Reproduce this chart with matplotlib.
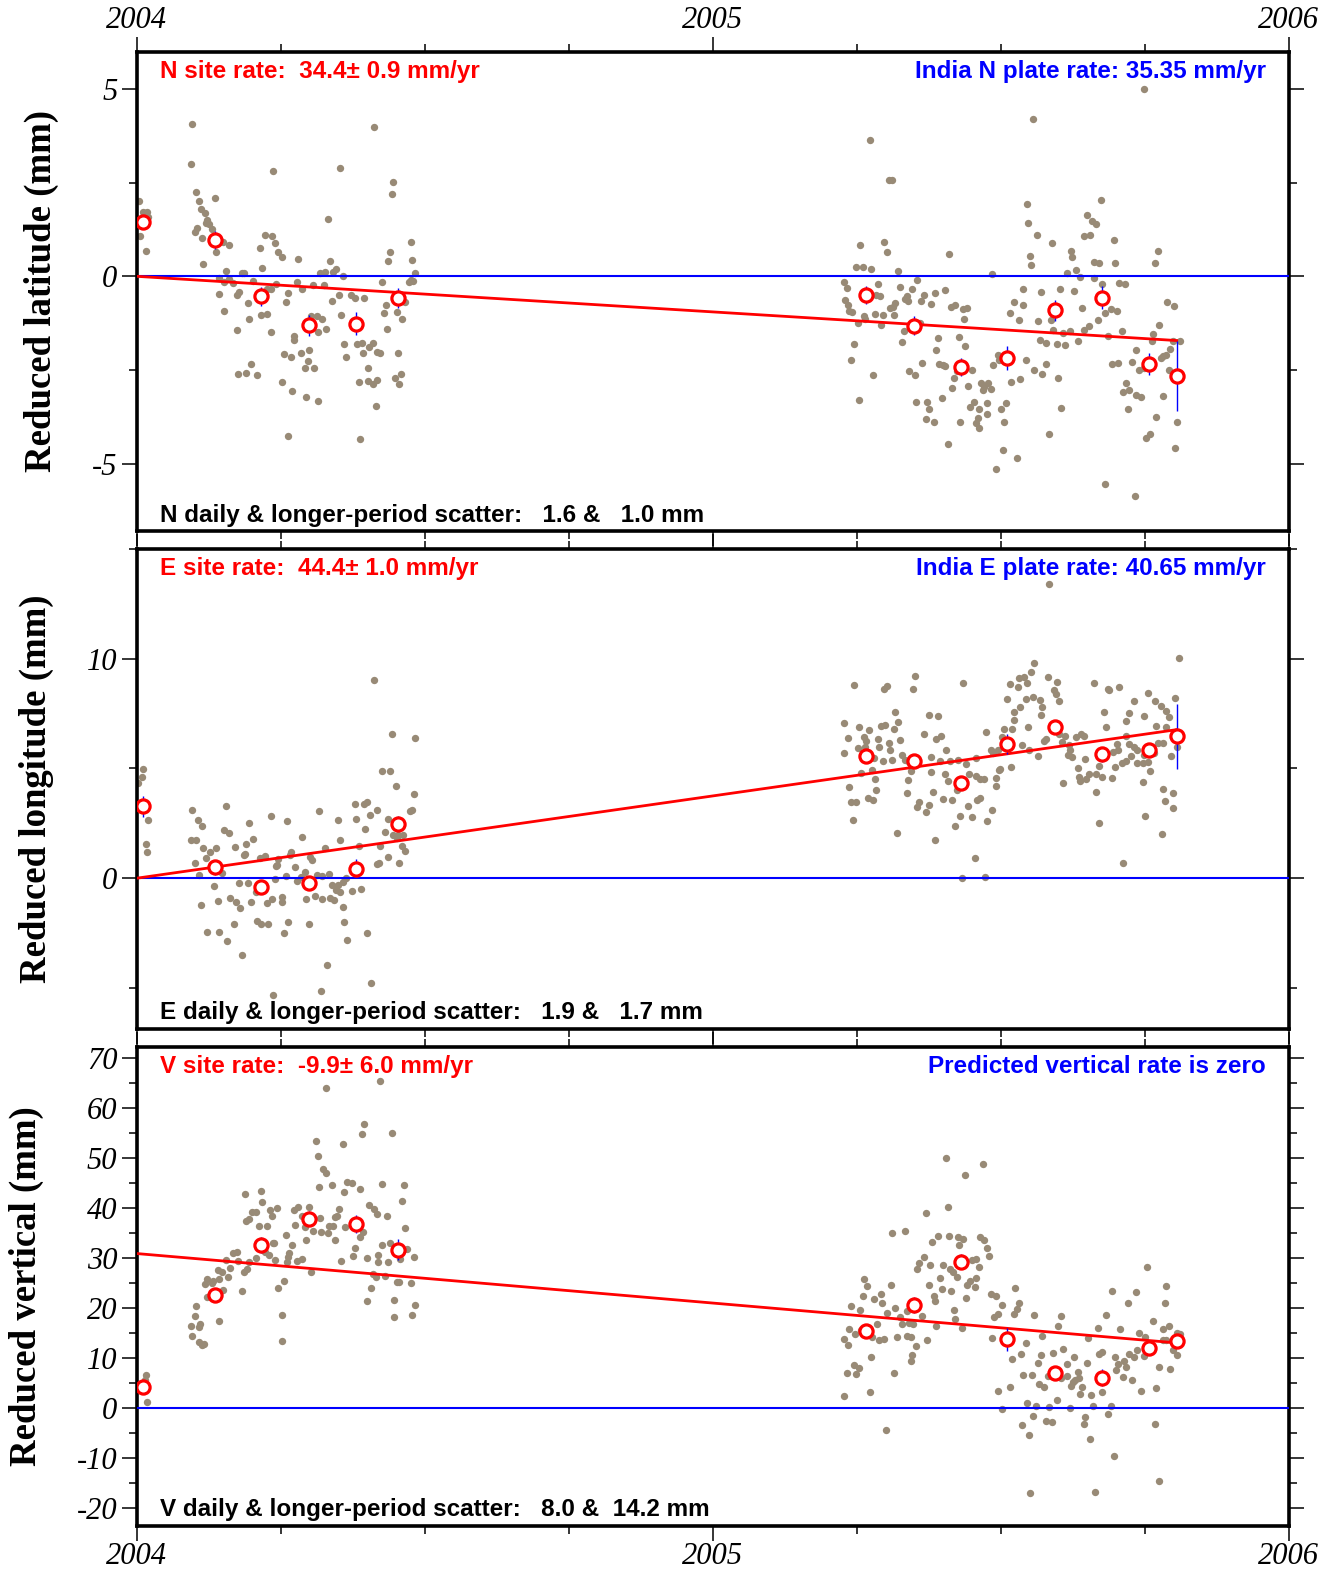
import numpy as np
import matplotlib
matplotlib.use('Agg')
import matplotlib.pyplot as plt
from matplotlib.ticker import MultipleLocator, FormatStrFormatter

plt.rcParams['font.family'] = ['Liberation Serif', 'DejaVu Serif']
plt.rcParams['axes.unicode_minus'] = False

# daily solutions: (years after 2004.0, residual in mm)
n_daily = [
    (0.004, 2.0), (0.010, 1.73), (0.017, 1.73), (0.019, 1.58), (0.005, 1.09), (0.015, 0.68),
    (0.096, 4.07), (0.094, 3.0), (0.412, 3.98), (0.237, 2.81), (0.352, 2.88), (0.445, 2.53), (0.442, 2.21), (0.332, 1.52),
    (0.102, 2.25), (0.108, 2.01), (0.111, 1.8), (0.118, 1.7), (0.122, 1.5), (0.125, 1.4), (0.120, 1.42), (0.136, 2.1),
    (0.104, 1.29), (0.100, 1.18), (0.131, 1.27), (0.113, 1.02), (0.138, 0.65), (0.115, 0.32), (0.149, 0.92), (0.160, 0.83),
    (0.222, 1.11), (0.234, 1.09), (0.239, 0.89), (0.213, 0.76), (0.245, 0.65), (0.251, 0.52), (0.217, 0.23), (0.280, 0.45),
    (0.335, 0.42), (0.346, 0.2), (0.341, 0.12), (0.317, 0.09), (0.327, 0.12), (0.357, 0.0), (0.440, 0.64), (0.436, 0.4),
    (0.476, 0.92), (0.478, 0.44), (0.483, 0.09), (0.479, -0.12), (0.472, -0.15), (0.475, -0.1),
    (0.155, 0.13), (0.143, -0.05), (0.151, -0.15), (0.160, -0.08), (0.167, -0.18), (0.183, 0.1), (0.186, 0.08), (0.202, -0.13),
    (0.143, -0.46), (0.151, -0.92), (0.173, -0.51), (0.178, -0.42), (0.193, -0.7), (0.195, -1.15), (0.174, -1.42),
    (0.226, -0.35), (0.232, -0.33), (0.215, -1.02), (0.226, -1.0), (0.232, -1.48), (0.242, -0.2), (0.262, -0.44), (0.258, -0.68),
    (0.278, -0.15), (0.286, -0.35), (0.305, -0.22), (0.324, -0.22), (0.338, -0.66), (0.350, -0.51), (0.354, -1.02),
    (0.372, -0.51), (0.379, -0.57), (0.395, -0.57), (0.303, -1.07), (0.312, -1.07), (0.322, -1.15), (0.329, -1.4), (0.314, -1.48),
    (0.273, -1.59), (0.272, -1.69), (0.255, -2.08), (0.268, -2.15), (0.284, -2.04), (0.299, -1.97), (0.297, -2.25), (0.291, -2.44), (0.308, -2.44),
    (0.198, -2.33), (0.190, -2.57), (0.176, -2.61), (0.209, -2.63), (0.252, -2.82), (0.269, -3.06), (0.294, -3.23), (0.314, -3.33),
    (0.263, -4.26), (0.387, -4.35), (0.359, -1.81), (0.363, -2.15), (0.382, -1.81), (0.390, -1.78), (0.393, -2.04), (0.403, -1.88), (0.410, -1.77),
    (0.417, -2.02), (0.422, -2.06), (0.401, -2.44), (0.385, -2.81), (0.401, -2.8), (0.410, -2.87), (0.417, -2.76), (0.415, -3.45),
    (0.453, -2.04), (0.459, -2.61), (0.448, -2.71), (0.455, -2.87), (0.432, -0.76), (0.429, -0.97), (0.434, -1.4), (0.451, -0.94), (0.461, -1.15),
    (0.465, -0.68), (0.426, -0.16),
    (1.273, 3.63), (1.556, 4.19), (1.306, 2.58), (1.311, 2.58), (1.545, 1.94), (1.674, 2.05), (1.547, 1.42), (1.650, 1.63), (1.658, 1.49), (1.665, 1.39),
    (1.644, 1.07), (1.655, 1.1), (1.562, 1.1), (1.588, 0.9), (1.697, 0.97), (1.773, 0.68), (1.767, 0.36), (1.698, 0.35), (1.662, 0.39), (1.670, 0.36),
    (1.622, 0.68), (1.623, 0.52), (1.550, 0.53), (1.553, 0.3), (1.410, 0.6), (1.256, 0.83), (1.297, 0.92), (1.302, 0.65), (1.248, 0.25), (1.260, 0.25),
    (1.275, 0.2), (1.322, 0.13), (1.485, 0.05), (1.615, 0.1), (1.630, 0.18), (1.637, -0.02), (1.661, -0.04), (1.355, -0.09), (1.227, -0.15), (1.232, -0.31),
    (1.286, -0.21), (1.325, -0.28), (1.346, -0.35), (1.705, -0.17), (1.715, -0.21), (1.675, -0.21), (1.283, -0.49), (1.290, -0.53),
    (1.367, -0.51), (1.362, -0.67), (1.379, -0.73), (1.386, -0.44), (1.402, -0.36), (1.337, -0.53), (1.339, -0.67), (1.333, -0.6),
    (1.229, -0.64), (1.234, -0.77), (1.241, -0.95), (1.236, -0.92), (1.316, -0.7), (1.312, -0.82), (1.308, -0.84), (1.315, -1.04),
    (1.281, -1.0), (1.295, -1.02), (1.263, -1.07), (1.264, -1.13), (1.251, -1.24), (1.292, -1.31), (1.331, -1.47), (1.359, -1.24), (1.328, -1.75),
    (1.245, -1.81), (1.240, -2.24), (1.278, -2.63), (1.254, -3.31), (1.413, -0.82), (1.421, -0.77), (1.434, -0.86), (1.441, -0.84), (1.435, -1.15),
    (1.391, -1.64), (1.427, -1.63), (1.438, -1.85), (1.388, -1.98), (1.363, -2.31), (1.393, -2.35), (1.403, -2.39), (1.400, -2.37),
    (1.449, -2.49), (1.424, -2.52), (1.341, -2.52), (1.350, -2.64), (1.419, -2.71), (1.415, -2.97), (1.443, -2.92), (1.352, -3.35), (1.372, -3.35), (1.375, -3.53),
    (1.397, -3.26), (1.369, -3.81), (1.383, -3.88), (1.429, -3.88), (1.408, -4.49), (1.465, -2.84), (1.470, -2.95), (1.469, -3.04), (1.477, -2.84), (1.482, -3.0),
    (1.454, -3.35), (1.446, -3.5), (1.475, -3.39), (1.462, -3.53), (1.476, -3.67), (1.460, -3.79), (1.457, -3.91), (1.462, -4.06),
    (1.509, -3.38), (1.500, -3.53), (1.506, -3.89), (1.503, -4.64), (1.492, -5.14), (1.528, -4.85), (1.495, -2.11), (1.487, -2.37), (1.497, -2.24),
    (1.518, -2.82), (1.533, -2.75), (1.543, -2.24), (1.558, -2.49), (1.572, -2.6), (1.578, -2.33), (1.599, -2.71), (1.605, -3.52), (1.583, -4.2),
    (1.515, -0.97), (1.523, -0.68), (1.531, -1.17), (1.538, -0.76), (1.539, -0.35), (1.564, -1.18), (1.570, -0.43), (1.586, -1.17),
    (1.603, -0.34), (1.627, -0.38), (1.591, -1.42), (1.608, -1.5), (1.619, -1.46), (1.567, -1.71), (1.578, -1.77), (1.597, -1.82), (1.611, -1.84),
    (1.634, -1.72), (1.641, -0.84), (1.645, -1.42), (1.652, -1.32), (1.669, -1.16), (1.680, -0.99), (1.691, -0.86), (1.701, -0.93), (1.686, -1.59), (1.710, -1.46),
    (1.693, -2.35), (1.704, -2.32), (1.717, -2.86), (1.712, -3.09), (1.723, -3.04), (1.727, -2.28), (1.734, -1.97), (1.720, -3.55), (1.735, -3.17), (1.743, -3.22),
    (1.739, -2.51), (1.749, -2.44), (1.764, -1.53), (1.762, -1.72), (1.775, -1.31), (1.782, -2.12), (1.778, -2.19), (1.786, -2.09), (1.793, -1.95), (1.798, -1.73), (1.810, -1.73),
    (1.789, -0.68), (1.800, -0.79), (1.792, -2.51), (1.781, -3.19), (1.769, -3.75), (1.759, -4.2), (1.752, -4.33), (1.805, -3.88), (1.803, -4.58),
    (1.681, -5.55), (1.732, -5.86), (1.749, 5.0),
]

e_daily = [
    (0.412, 9.03), (0.442, 6.59), (0.483, 6.38), (0.011, 4.98), (0.009, 4.61), (0.002, 4.33), (0.020, 2.67), (0.015, 1.58), (0.017, 1.2),
    (0.425, 4.88), (0.440, 4.9), (0.450, 4.2), (0.481, 3.85), (0.474, 3.06), (0.478, 3.09), (0.417, 3.12), (0.379, 3.36), (0.394, 3.36), (0.399, 3.49),
    (0.316, 3.06), (0.404, 2.86), (0.381, 2.68), (0.349, 2.64), (0.436, 2.68), (0.396, 2.26), (0.430, 2.1), (0.445, 1.98), (0.451, 1.84), (0.454, 1.95), (0.462, 1.96),
    (0.461, 1.47), (0.465, 1.24), (0.422, 1.45), (0.435, 0.95), (0.455, 0.67), (0.417, 0.64), (0.420, 0.7), (0.386, 1.47), (0.389, -0.47), (0.374, -0.59),
    (0.400, -2.52), (0.406, -4.79), (0.352, 1.73), (0.327, 1.39), (0.286, 1.88), (0.268, 1.2), (0.266, 1.05), (0.304, 0.82), (0.301, 0.97), (0.274, 0.52),
    (0.258, 0.1), (0.278, -0.14), (0.285, 0.05), (0.292, 0.3), (0.313, 0.15), (0.333, 0.2), (0.321, 0.1),
    (0.339, -0.32), (0.345, -0.55), (0.336, -0.92), (0.342, -1.0), (0.363, 0.03), (0.357, -0.17), (0.349, -0.3), (0.352, -0.65),
    (0.321, -0.97), (0.294, -0.97), (0.309, -0.8), (0.298, -2.08), (0.357, -1.3), (0.359, -1.99), (0.365, -2.82), (0.330, -3.94), (0.319, -5.14), (0.237, -5.32), (0.183, -3.5),
    (0.255, -2.48), (0.263, -1.98), (0.252, -0.85), (0.251, -1.1), (0.239, -0.05), (0.242, 0.56), (0.245, 0.86), (0.228, -2.1), (0.209, -1.95), (0.215, -2.1),
    (0.225, -1.15), (0.234, -0.95), (0.206, -0.62), (0.198, -1.1), (0.177, -0.24), (0.193, -0.2), (0.161, -0.92), (0.172, -1.08), (0.179, -1.35), (0.168, -2.1),
    (0.141, -1.03), (0.133, -0.36), (0.111, -1.23), (0.121, -2.44), (0.143, -2.47), (0.157, -2.85), (0.108, 0.14), (0.100, 0.7), (0.120, 0.94), (0.127, 1.2), (0.138, 1.39),
    (0.115, 1.39), (0.094, 1.76), (0.102, 1.76), (0.147, 0.24), (0.140, 0.32), (0.096, 3.12), (0.106, 2.67), (0.113, 2.38), (0.154, 3.3), (0.151, 2.18), (0.160, 2.08),
    (0.171, 1.41), (0.185, 1.05), (0.188, 1.12), (0.190, 1.55), (0.201, 1.8), (0.195, 2.51), (0.232, 2.83), (0.261, 2.61), (0.213, 0.9), (0.223, 1.0), (0.243, 0.58),
    (1.584, 13.4), (1.809, 10.03), (1.557, 9.79), (1.553, 9.38), (1.540, 9.15), (1.532, 9.1), (1.545, 8.88), (1.529, 8.7), (1.515, 8.85),
    (1.581, 9.18), (1.597, 8.92), (1.592, 8.58), (1.595, 8.4), (1.600, 8.09), (1.556, 8.27), (1.568, 8.12), (1.543, 8.17), (1.510, 8.17),
    (1.533, 7.79), (1.523, 7.56), (1.572, 7.79), (1.570, 7.44), (1.434, 8.91), (1.350, 9.23), (1.347, 8.62), (1.245, 8.79), (1.297, 8.62), (1.303, 8.77),
    (1.316, 7.59), (1.322, 7.14), (1.314, 6.8), (1.375, 7.45), (1.391, 7.38), (1.227, 7.06), (1.254, 6.91), (1.271, 6.76), (1.291, 6.92), (1.299, 6.99),
    (1.234, 6.38), (1.263, 6.42), (1.266, 6.27), (1.287, 6.35), (1.325, 6.3), (1.367, 6.55), (1.388, 6.35), (1.396, 6.5), (1.252, 5.92), (1.264, 5.97),
    (1.289, 6.0), (1.305, 6.15), (1.308, 5.82), (1.228, 5.7), (1.280, 5.48), (1.295, 5.36), (1.311, 5.4), (1.328, 5.62), (1.333, 5.4), (1.340, 5.29),
    (1.378, 5.52), (1.379, 4.83), (1.394, 5.36), (1.405, 5.82), (1.411, 5.36), (1.426, 5.4), (1.257, 4.8), (1.276, 4.94), (1.281, 4.5), (1.237, 4.15), (1.283, 4.0),
    (1.240, 3.47), (1.248, 3.47), (1.270, 3.65), (1.278, 3.55), (1.243, 2.64), (1.320, 2.08), (1.339, 4.49), (1.344, 4.88), (1.337, 3.88),
    (1.357, 3.47), (1.354, 3.24), (1.375, 3.32), (1.370, 3.01), (1.382, 3.92), (1.399, 3.62), (1.415, 3.58), (1.402, 4.76), (1.408, 4.45), (1.385, 1.73),
    (1.424, 4.0), (1.430, 4.15), (1.440, 5.21), (1.444, 4.76), (1.457, 5.49), (1.456, 4.64), (1.464, 4.53), (1.459, 3.55), (1.464, 3.67),
    (1.443, 3.27), (1.449, 2.79), (1.429, 2.85), (1.421, 2.38), (1.455, 0.94), (1.433, 0.01), (1.473, 0.06), (1.475, 2.59), (1.485, 3.12),
    (1.470, 4.53), (1.491, 4.2), (1.492, 4.56), (1.474, 6.68), (1.482, 5.82), (1.496, 4.91), (1.498, 4.98), (1.487, 5.7), (1.495, 5.82),
    (1.502, 6.45), (1.506, 6.8), (1.520, 6.8), (1.517, 5.06), (1.537, 6.09), (1.547, 6.88), (1.549, 5.82), (1.565, 5.59), (1.522, 7.21), (1.574, 6.27), (1.578, 6.35),
    (1.601, 6.58), (1.612, 6.5), (1.606, 6.2), (1.618, 6.05), (1.619, 5.82), (1.624, 5.52), (1.616, 5.62), (1.630, 6.42), (1.639, 6.55), (1.644, 6.5),
    (1.608, 4.33), (1.633, 5.03), (1.636, 4.6), (1.638, 4.45), (1.647, 4.53), (1.653, 4.76), (1.646, 5.44), (1.661, 8.88), (1.679, 7.56), (1.682, 6.88),
    (1.685, 8.62), (1.688, 8.58), (1.705, 8.73), (1.665, 4.76), (1.675, 4.6), (1.670, 5.1), (1.665, 3.92), (1.670, 2.51), (1.711, 0.7),
    (1.693, 4.58), (1.698, 5.06), (1.695, 5.74), (1.704, 5.82), (1.710, 5.24), (1.717, 5.36), (1.702, 6.12), (1.717, 6.5), (1.723, 6.12),
    (1.717, 7.18), (1.723, 7.52), (1.731, 8.06), (1.748, 7.41), (1.756, 8.44), (1.767, 8.06), (1.777, 7.83), (1.786, 7.64), (1.791, 7.33), (1.803, 8.21),
    (1.769, 6.95), (1.786, 6.88), (1.731, 5.97), (1.737, 5.82), (1.726, 5.55), (1.749, 5.62), (1.766, 5.7), (1.772, 6.15), (1.782, 6.15),
    (1.737, 5.24), (1.746, 5.24), (1.755, 5.29), (1.759, 4.88), (1.746, 4.38), (1.781, 4.08), (1.798, 3.9), (1.784, 3.52), (1.799, 3.2), (1.750, 2.82), (1.779, 2.03),
    (1.805, 5.97), (1.795, 5.59),
]

v_daily = [
    (0.328, 64.1), (0.422, 65.5), (0.395, 56.9), (0.390, 54.8), (0.442, 55.0), (0.310, 53.4), (0.357, 52.8), (0.314, 50.4), (0.323, 47.8), (0.329, 47.0),
    (0.316, 44.3), (0.338, 44.7), (0.364, 45.3), (0.374, 45.0), (0.388, 43.9), (0.360, 43.2), (0.425, 44.9), (0.464, 44.7), (0.461, 41.4),
    (0.403, 40.7), (0.411, 39.9), (0.417, 38.9), (0.434, 38.4), (0.187, 42.9), (0.215, 43.4), (0.217, 41.3), (0.200, 39.2), (0.207, 39.3), (0.194, 37.9), (0.189, 37.4),
    (0.212, 36.4), (0.225, 36.4), (0.231, 39.7), (0.243, 40.0), (0.234, 38.4), (0.272, 39.7), (0.280, 40.3), (0.299, 40.3), (0.287, 38.5),
    (0.351, 39.9), (0.348, 38.5), (0.343, 38.2), (0.317, 38.1), (0.274, 36.6), (0.291, 36.2), (0.305, 35.5), (0.320, 35.3), (0.334, 36.4), (0.341, 36.5), (0.332, 35.1),
    (0.362, 36.2), (0.393, 35.2), (0.387, 34.2), (0.258, 34.7), (0.237, 33.1), (0.294, 33.7), (0.343, 33.7), (0.466, 36.0), (0.426, 32.7), (0.440, 33.1), (0.436, 29.2), (0.419, 30.7),
    (0.469, 31.9), (0.481, 30.2), (0.457, 29.9), (0.379, 32.0), (0.375, 30.5), (0.399, 30.1), (0.354, 29.4), (0.269, 32.7), (0.264, 31.0), (0.262, 30.2), (0.261, 29.2),
    (0.278, 29.5), (0.287, 29.9), (0.303, 27.2), (0.223, 31.2), (0.229, 30.7), (0.239, 29.7), (0.207, 30.1), (0.238, 33.0),
    (0.195, 29.2), (0.191, 27.9), (0.185, 27.2), (0.176, 29.5), (0.167, 31.0), (0.174, 31.3),
    (0.155, 29.7), (0.161, 28.1), (0.147, 27.3), (0.141, 27.7), (0.158, 26.2), (0.143, 25.9), (0.132, 25.5), (0.121, 25.9), (0.119, 24.8), (0.130, 25.0), (0.150, 23.7),
    (0.121, 22.2), (0.103, 20.4), (0.100, 18.4), (0.094, 16.4), (0.110, 16.9), (0.107, 16.2), (0.096, 14.4), (0.107, 13.2), (0.113, 12.6), (0.117, 12.8),
    (0.142, 17.4), (0.183, 23.4), (0.245, 24.0), (0.255, 25.5), (0.251, 18.7), (0.252, 13.4), (0.400, 21.4), (0.406, 24.0),
    (0.410, 26.9), (0.415, 26.3), (0.431, 26.5), (0.418, 29.2), (0.447, 21.7), (0.446, 18.2), (0.452, 25.2), (0.455, 25.2), (0.475, 25.0), (0.483, 20.6), (0.478, 18.6),
    (0.014, 5.6), (0.016, 6.6), (0.018, 1.3),
    (1.405, 50.0), (1.468, 48.8), (1.438, 46.7), (1.408, 40.2), (1.369, 39.0), (1.311, 35.1), (1.333, 35.5),
    (1.380, 33.3), (1.391, 34.5), (1.410, 34.4), (1.426, 34.3), (1.434, 33.9), (1.428, 32.7), (1.464, 34.2), (1.470, 33.7), (1.475, 32.1), (1.479, 30.5),
    (1.367, 30.3), (1.357, 29.0), (1.377, 28.7), (1.355, 27.9), (1.399, 28.7), (1.411, 27.9), (1.416, 27.3), (1.424, 26.3), (1.450, 29.7), (1.457, 29.9), (1.462, 28.3),
    (1.394, 26.0), (1.375, 24.7), (1.397, 23.9), (1.413, 23.4), (1.446, 25.5), (1.457, 26.0), (1.455, 24.2), (1.441, 24.7), (1.440, 22.0), (1.383, 22.4), (1.386, 21.4),
    (1.262, 25.9), (1.267, 24.4), (1.309, 24.6), (1.260, 22.4), (1.280, 21.8), (1.292, 22.8), (1.294, 21.0), (1.240, 20.4), (1.256, 19.6), (1.316, 20.0), (1.303, 19.0),
    (1.324, 18.2), (1.328, 16.9), (1.340, 17.0), (1.348, 16.9), (1.363, 18.4), (1.337, 19.4), (1.388, 16.4), (1.419, 19.6), (1.421, 17.8), (1.432, 16.0),
    (1.236, 15.9), (1.246, 14.9), (1.257, 15.6), (1.285, 16.9), (1.276, 14.2), (1.288, 13.6), (1.297, 13.8), (1.320, 14.2), (1.228, 13.8), (1.234, 12.6),
    (1.337, 14.4), (1.344, 14.2), (1.372, 13.6), (1.352, 12.4), (1.345, 10.7), (1.344, 9.4), (1.275, 10.2), (1.244, 8.6), (1.254, 8.0), (1.232, 7.0), (1.249, 6.9), (1.314, 7.1),
    (1.227, 2.5), (1.273, 3.3), (1.301, -4.3),
    (1.485, 14.1), (1.488, 18.2), (1.495, 18.8), (1.502, 20.7), (1.492, 22.4), (1.482, 22.9), (1.525, 24.0), (1.531, 21.1), (1.527, 19.9), (1.523, 18.8),
    (1.557, 18.6), (1.604, 18.4), (1.599, 16.4), (1.543, 13.0), (1.534, 10.9), (1.520, 9.9), (1.515, 4.3), (1.495, 3.5), (1.502, -0.1), (1.572, 14.4),
    (1.569, 10.7), (1.564, 9.0), (1.554, 6.7), (1.538, 6.6), (1.591, 11.0), (1.608, 11.9), (1.627, 10.2), (1.614, 8.8),
    (1.581, 6.4), (1.604, 6.1), (1.615, 6.4), (1.634, 7.2), (1.636, 6.0), (1.566, 4.9), (1.575, 4.3), (1.625, 5.2), (1.621, 4.4), (1.629, 5.6), (1.640, 4.3),
    (1.546, 1.1), (1.561, 0.5), (1.583, 0.3), (1.598, 1.7), (1.619, 0.1), (1.638, 2.9), (1.656, 2.6), (1.556, -1.5), (1.537, -3.4), (1.548, -5.4), (1.578, -2.5), (1.588, -2.7),
    (1.550, -16.9), (1.663, -16.7), (1.649, 9.0), (1.669, 16.0), (1.682, 18.6), (1.676, 11.2), (1.670, 10.9), (1.651, 14.0),
    (1.676, 3.3), (1.660, 0.5), (1.646, -1.7), (1.644, -3.1), (1.655, -6.2), (1.691, 0.4), (1.685, -1.1), (1.697, -9.6),
    (1.692, 23.4), (1.706, 15.9), (1.721, 21.1), (1.734, 23.2), (1.753, 28.2), (1.786, 24.4), (1.784, 21.0),
    (1.764, 17.4), (1.781, 15.9), (1.792, 16.4), (1.805, 15.0), (1.810, 14.9), (1.786, 13.6), (1.798, 13.2), (1.739, 15.0), (1.750, 14.2),
    (1.698, 10.2), (1.704, 8.9), (1.714, 9.4), (1.717, 8.2), (1.723, 10.9), (1.731, 10.2), (1.737, 11.7), (1.749, 10.4),
    (1.699, 7.6), (1.711, 6.2), (1.727, 5.7), (1.743, 3.5), (1.769, 4.1), (1.775, 8.2), (1.794, 7.8), (1.798, 11.7), (1.805, 10.7), (1.781, 13.7),
    (1.767, -3.2), (1.774, -14.5),
]

# longer-period (monthly) averages with one-sigma errors
avg_t = [0.010, 0.135, 0.216, 0.298, 0.381, 0.453, 1.266, 1.349, 1.431, 1.511, 1.593, 1.675, 1.757, 1.805]
n_avg = [1.45, 0.96, -0.53, -1.31, -1.26, -0.57, -0.50, -1.32, -2.42, -2.17, -0.91, -0.57, -2.35, -2.67]
n_err = [0.15, 0.24, 0.25, 0.27, 0.31, 0.27, 0.24, 0.25, 0.24, 0.32, 0.27, 0.31, 0.29, 0.93]
e_avg = [3.27, 0.49, -0.39, -0.21, 0.44, 2.49, 5.56, 5.36, 4.33, 6.12, 6.91, 5.64, 5.82, 6.47]
e_err = [0.48, 0.34, 0.27, 0.27, 0.45, 0.33, 0.27, 0.30, 0.32, 0.45, 0.27, 0.33, 0.27, 1.49]
v_avg = [4.2, 22.6, 32.7, 37.9, 36.9, 31.7, 15.4, 20.7, 29.3, 13.8, 7.1, 6.1, 12.1, 13.4]
v_err = [1.0, 1.2, 1.6, 1.5, 1.8, 2.1, 1.2, 1.6, 1.5, 2.3, 1.2, 1.7, 1.4, 1.2]

# rates (mm/yr) and fit offsets at 2004.0
site_rate = [34.4, 44.4, -9.9]
plate_rate = [35.35, 40.65, 0.0]
fit_offset = [0.0, 0.0, 30.9]
fit_end = 1.805

labels = ['Reduced latitude (mm)', 'Reduced longitude (mm)', 'Reduced vertical (mm)']
site_text = ['N site rate:  34.4\u00b1 0.9 mm/yr', 'E site rate:  44.4\u00b1 1.0 mm/yr',
             'V site rate:  -9.9\u00b1 6.0 mm/yr']
plate_text = ['India N plate rate: 35.35 mm/yr', 'India E plate rate: 40.65 mm/yr',
              'Predicted vertical rate is zero']
scatter_text = ['N daily & longer-period scatter:   1.6 &   1.0 mm',
                'E daily & longer-period scatter:   1.9 &   1.7 mm',
                'V daily & longer-period scatter:   8.0 &  14.2 mm']

ylims = [(-6.8, 6.0), (-6.85, 15.0), (-23.5, 72.3)]
ymajor = [5, 10, 10]
yminor = [2.5, 5, 5]
label_x = [-0.0825, -0.087, -0.0963]

dot_color = '#988a76'

fig = plt.figure(figsize=(13.36, 15.70), dpi=100)
boxes = [(0.1025, 0.6618, 0.8623, 0.3053),
         (0.1025, 0.3449, 0.8623, 0.3054),
         (0.1025, 0.0283, 0.8623, 0.3051)]

dailies = [n_daily, e_daily, v_daily]
avgs = [n_avg, e_avg, v_avg]
errs = [n_err, e_err, v_err]

for i in range(3):
    ax = fig.add_axes(boxes[i])
    pts = np.array(dailies[i])
    ax.scatter(2004 + pts[:, 0], pts[:, 1], s=28, color=dot_color, linewidths=0, zorder=2)

    ax.axhline(0, color='#0000ff', lw=1.5, zorder=3)
    tt = np.array([0.0, fit_end])
    slope = site_rate[i] - plate_rate[i]
    ax.plot(2004 + tt, fit_offset[i] + slope * tt, color='#ff0000', lw=2.0, zorder=3)

    at = 2004 + np.array(avg_t)
    ax.errorbar(at, avgs[i], yerr=errs[i], fmt='none', ecolor='#0000ff', elinewidth=1.0,
                capsize=0, zorder=4)
    ax.plot(at, avgs[i], 'o', ms=9.5, mfc='white', mec='#ff0000', mew=2.3, zorder=5)

    ax.set_xlim(2004, 2006)
    ax.set_ylim(*ylims[i])
    ax.xaxis.set_major_locator(MultipleLocator(1))
    ax.xaxis.set_minor_locator(MultipleLocator(0.25))
    ax.xaxis.set_major_formatter(FormatStrFormatter('%d'))
    ax.yaxis.set_major_locator(MultipleLocator(ymajor[i]))
    ax.yaxis.set_minor_locator(MultipleLocator(yminor[i]))
    ax.yaxis.set_major_formatter(FormatStrFormatter('%d'))

    ax.tick_params(which='both', direction='out', top=True, right=True, width=1.1,
                   labelsize=22, pad=3)
    ax.tick_params(which='major', length=11)
    ax.tick_params(which='minor', length=6)
    ax.tick_params(axis='x', labeltop=(i == 0), labelbottom=(i == 2), pad=1)
    for lab in ax.get_xticklabels() + ax.get_yticklabels():
        lab.set_fontstyle('italic')
    for sp in ax.spines.values():
        sp.set_linewidth(2.6)

    ax.text(label_x[i], 0.5, labels[i], transform=ax.transAxes, rotation=90,
            ha='center', va='center', fontsize=26.5, fontweight='bold',
            family='Liberation Serif')

    kw = dict(transform=ax.transAxes, fontsize=17.5, fontweight='bold',
              family=['Liberation Sans', 'DejaVu Sans'], zorder=6)
    ax.text(0.020, 0.945, site_text[i], color='#ff0000', ha='left', va='baseline', **kw)
    ax.text(0.980, 0.945, plate_text[i], color='#0000ff', ha='right', va='baseline', **kw)
    ax.text(0.020, 0.019, scatter_text[i], color='black', ha='left', va='baseline', **kw)

fig.savefig('out.png', dpi=100)
